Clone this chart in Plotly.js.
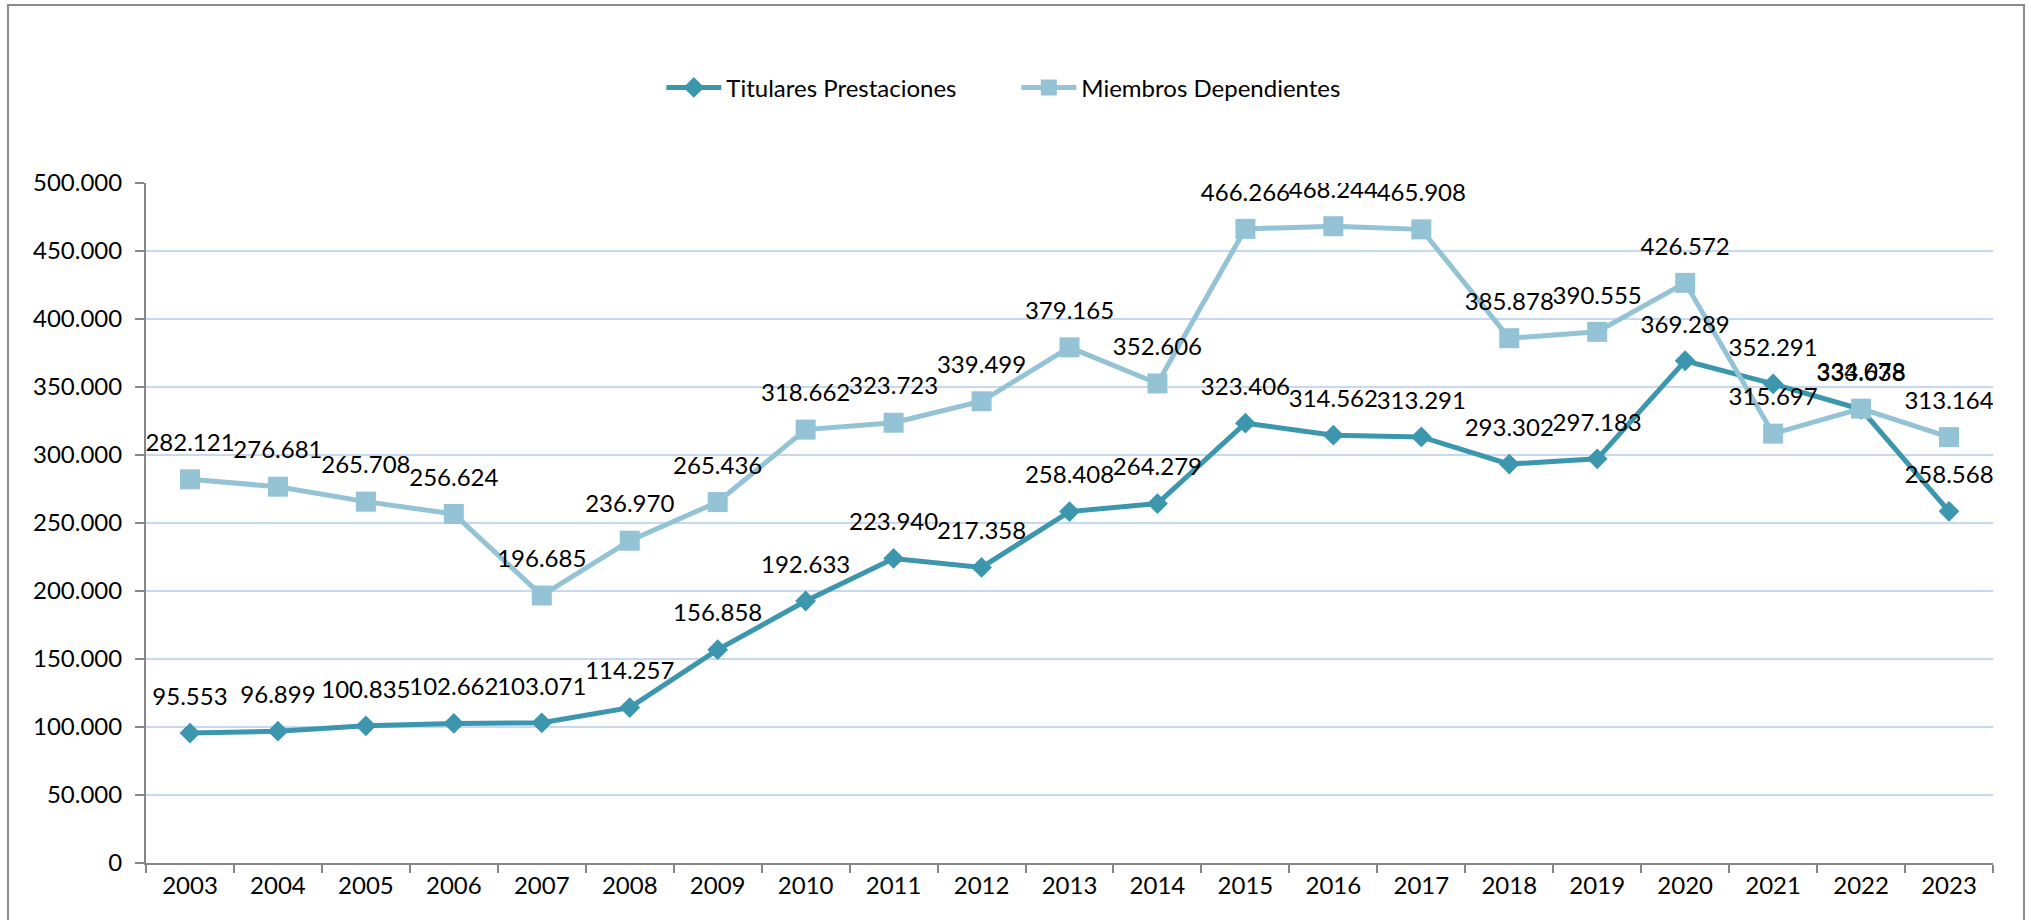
<!DOCTYPE html>
<html>
<head>
<meta charset="utf-8">
<script src="https://cdn.plot.ly/plotly-3.0.1.min.js"></script>
<style>
  body { margin: 0; background: #fff; }
  #chart { width: 2031px; height: 920px; }
  #frame { position: absolute; left: 7px; top: 4px; width: 2014px; height: 940px;
           border: 2px solid #8c8c8c; pointer-events: none; }
</style>
</head>
<body>
<div id="chart"></div>
<div id="frame"></div>
<script>
var years = ['2003', '2004', '2005', '2006', '2007', '2008', '2009', '2010', '2011', '2012', '2013',
             '2014', '2015', '2016', '2017', '2018', '2019', '2020', '2021', '2022', '2023'];

var titulares = [95553, 96899, 100835, 102662, 103071, 114257, 156858, 192633, 223940, 217358, 258408,
                 264279, 323406, 314562, 313291, 293302, 297183, 369289, 352291, 333638, 258568];

var miembros = [282121, 276681, 265708, 256624, 196685, 236970, 265436, 318662, 323723, 339499, 379165,
                352606, 466266, 468244, 465908, 385878, 390555, 426572, 315697, 334078, 313164];

var FONT = 'Lato, "Open Sans", sans-serif';
var DARK = '#3c96ad';
var LIGHT = '#93c3d5';

var tit = {
    x: years,
    y: titulares,
    name: 'Titulares Prestaciones',
    type: 'scatter',
    mode: 'lines+markers',
    line: {color: DARK, width: 5},
    marker: {symbol: 'diamond', size: 16, color: DARK}
};

var mie = {
    x: years,
    y: miembros,
    name: 'Miembros Dependientes',
    type: 'scatter',
    mode: 'lines+markers',
    line: {color: LIGHT, width: 5},
    marker: {symbol: 'square', size: 20, color: LIGHT}
};

// value labels: invisible big markers push the text up above the point
function labels(series) {
    return {
        x: years,
        y: series,
        type: 'scatter',
        mode: 'markers+text',
        texttemplate: '%{y:,.0f}',
        textposition: 'top center',
        textfont: {family: FONT, size: 24, color: '#000'},
        marker: {size: 34, color: 'rgba(0,0,0,0)'},
        showlegend: false,
        hoverinfo: 'skip'
    };
}

var data = [tit, mie, labels(titulares), labels(miembros)];

var layout = {
    width: 2031,
    height: 920,
    margin: {l: 146, r: 38, t: 183, b: 57},
    paper_bgcolor: '#fff',
    plot_bgcolor: '#fff',
    separators: ',.',
    font: {family: FONT, size: 24, color: '#000'},
    showlegend: true,
    legend: {
        orientation: 'h',
        x: 0.279, xanchor: 'left',
        y: 1.14, yanchor: 'middle',
        itemwidth: 55,
        entrywidth: 285,
        font: {family: FONT, size: 24, color: '#000'}
    },
    xaxis: {
        type: 'category',
        showgrid: false,
        showline: true,
        linecolor: '#868686',
        linewidth: 2,
        ticks: 'outside',
        tickson: 'boundaries',
        ticklen: 8,
        tickcolor: '#868686',
        tickwidth: 2,
        range: [-0.5, 20.5],
        fixedrange: true
    },
    yaxis: {
        range: [0, 500000],
        dtick: 50000,
        tickformat: ',.0f',
        showgrid: true,
        gridcolor: '#c6d9f0',
        gridwidth: 2,
        zeroline: false,
        showline: true,
        linecolor: '#868686',
        linewidth: 2,
        ticks: 'outside',
        ticklen: 9,
        tickcolor: '#868686',
        tickwidth: 2,
        ticklabelstandoff: 8
    }
};

Plotly.newPlot('chart', data, layout, {displayModeBar: false});
</script>
</body>
</html>
